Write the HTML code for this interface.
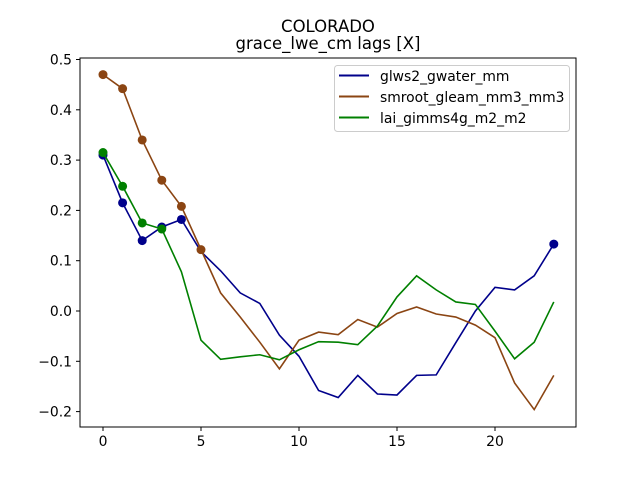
<!DOCTYPE html>
<html><head><meta charset="utf-8"><style>
body{margin:0;background:#fff;font-family:"DejaVu Sans","Liberation Sans",sans-serif}
svg text{font-family:"DejaVu Sans","Liberation Sans",sans-serif}
</style></head><body>
<svg id="chart" width="640" height="480" xmlns="http://www.w3.org/2000/svg">
<rect width="640" height="480" fill="#fff"/>
<text x="328" y="32" text-anchor="middle" font-size="16.5">COLORADO</text>
<text x="328" y="49" text-anchor="middle" font-size="16.5">grace_lwe_cm lags [X]</text>
<g id="plot"></g>
<rect x="80" y="58" width="496" height="369" fill="none" stroke="#000" stroke-width="1"/>
<g>
<rect x="334.5" y="65.5" width="235" height="66" rx="3" fill="#fff" stroke="#ccc"/>
<line x1="339" y1="75.5" x2="369" y2="75.5" stroke="#00008b" stroke-width="2"/>
<text x="380" y="81" font-size="13.9">glws2_gwater_mm</text>
<line x1="339" y1="96.5" x2="369" y2="96.5" stroke="#8b4513" stroke-width="2"/>
<text x="380" y="102" font-size="13.9">smroot_gleam_mm3_mm3</text>
<line x1="339" y1="117.5" x2="369" y2="117.5" stroke="#008000" stroke-width="2"/>
<text x="380" y="123" font-size="13.9">lai_gimms4g_m2_m2</text>
</g>
</svg>
<script>
const lags=[0,1,2,3,4,5,6,7,8,9,10,11,12,13,14,15,16,17,18,19,20,21,22,23];
const glws2=[0.31,0.215,0.14,0.167,0.182,0.118,0.08,0.036,0.015,-0.048,-0.09,-0.158,-0.172,-0.128,-0.165,-0.167,-0.128,-0.127,-0.063,0.0,0.047,0.042,0.07,0.133];
const smroot=[0.47,0.442,0.34,0.26,0.208,0.122,0.036,-0.012,-0.062,-0.115,-0.058,-0.042,-0.047,-0.017,-0.032,-0.005,0.008,-0.006,-0.012,-0.028,-0.053,-0.143,-0.196,-0.128];
const lai=[0.315,0.248,0.175,0.163,0.078,-0.058,-0.096,-0.091,-0.087,-0.097,-0.077,-0.061,-0.062,-0.067,-0.03,0.028,0.07,0.042,0.018,0.013,-0.04,-0.095,-0.062,0.018];
const glwsMarked=[0,1,2,3,4,23];
const smrootMarked=[0,1,2,3,4,5];
const laiMarked=[0,1,2,3];
const xTicks=[0,5,10,15,20];
const yTicks=[-0.2,-0.1,0.0,0.1,0.2,0.3,0.4,0.5];
const NS="http://www.w3.org/2000/svg";
const X=v=>103+v*19.6;
const Y=v=>311-v*503;
const g=document.getElementById('plot');
function mk(t,a){const e=document.createElementNS(NS,t);for(const k in a)e.setAttribute(k,a[k]);g.appendChild(e);return e;}
xTicks.forEach(t=>{
 const l=mk('line',{x1:X(t),x2:X(t),y1:427,y2:431,stroke:'#000'});
 
 
 const tx=mk('text',{x:X(t),y:446,'text-anchor':'middle','font-size':'13.9'});tx.textContent=t;
 
 
});
yTicks.forEach(t=>{
 const l=mk('line',{x1:76,x2:80,y1:Y(t),y2:Y(t),stroke:'#000'});
 
 
 const tx=mk('text',{x:72,y:Y(t)+5,'text-anchor':'end','font-size':'13.9'});tx.textContent=(t<0?'\u2212':'')+Math.abs(t).toFixed(1);
 
 
});
function series(vals,marked,color,name){
 const p=mk('polyline',{points:lags.map((x,i)=>X(x)+','+Y(vals[i])).join(' '),fill:'none',stroke:color,'stroke-width':1.6});
 
 
 marked.forEach(i=>{
  const c=mk('circle',{cx:X(lags[i]),cy:Y(vals[i]),r:4.5,fill:color});
  
  
 });
}
series(glws2,glwsMarked,'#00008b','glws2');
series(smroot,smrootMarked,'#8b4513','smroot');
series(lai,laiMarked,'#008000','lai');
</script>
</body></html>
